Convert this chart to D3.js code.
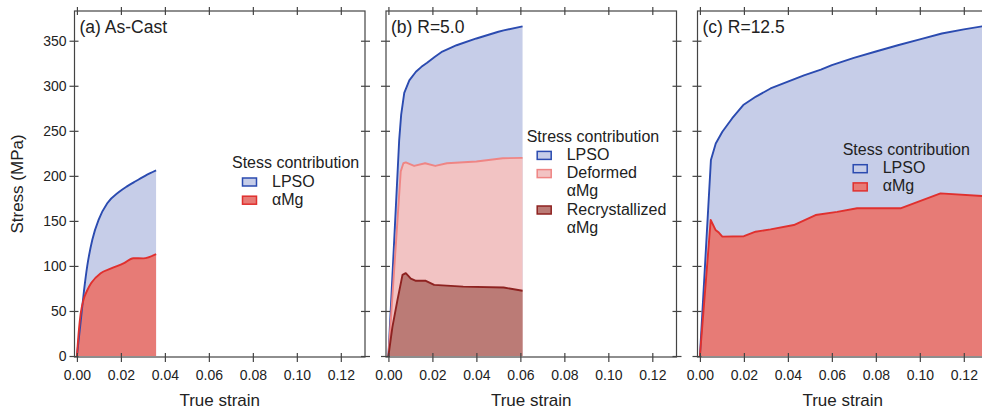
<!DOCTYPE html>
<html>
<head>
<meta charset="utf-8">
<script src="https://cdn.jsdelivr.net/npm/d3@7"></script>
<style>
  html, body { margin: 0; padding: 0; background: #fff; }
  svg { display: block; font-family: "Liberation Sans", Arial, Helvetica, sans-serif; }
</style>
</head>
<body>
<svg id="chart" width="982" height="412"></svg>
<script>
// ---------------- DATA ----------------
const xTicks = [0.00, 0.02, 0.04, 0.06, 0.08, 0.10, 0.12];
const yTicks = [0, 50, 100, 150, 200, 250, 300, 350];
const panelTitles = ["(a) As-Cast", "(b) R=5.0", "(c) R=12.5"];

// Panel (a) As-Cast : [true strain, stress MPa]
const a_LPSO = [[0,0],[0.0017,38],[0.0032,72],[0.0047,100],[0.007,129],[0.01,152],[0.0138,169.5],[0.0191,182],[0.0226,188],[0.026,193],[0.031,200],[0.036,206]];
const a_aMg  = [[0,0],[0.0009,29],[0.0017,47],[0.0032,64],[0.0047,73],[0.0065,81],[0.0108,92],[0.0153,97],[0.0214,103],[0.0256,108.5],[0.0302,108.4],[0.036,113]];

// Panel (b) R=5.0
const b_LPSO  = [[0,0],[0.0049,240],[0.0058,268],[0.0072,292],[0.0095,306],[0.0125,315.6],[0.015,321],[0.0176,325.5],[0.021,332],[0.0245,338],[0.031,345],[0.04,352.5],[0.05,360],[0.0524,361.5],[0.061,366]];
const b_defMg = [[0,0],[0.0056,205],[0.0068,214],[0.0079,215],[0.0117,211],[0.0167,214],[0.0213,211],[0.0266,214],[0.04,216],[0.052,219.5],[0.061,220]];
const b_recMg = [[0,0],[0.0018,32],[0.0041,62],[0.0064,90],[0.0079,92],[0.0102,86],[0.0125,83.5],[0.017,83.5],[0.0208,79],[0.034,77],[0.0524,76],[0.061,72.5]];

// Panel (c) R=12.5
const c_LPSO = [[0,0],[0.005,217.5],[0.0072,236],[0.0102,249],[0.0147,264],[0.0197,278.6],[0.0255,288],[0.0321,297],[0.04,304.5],[0.0473,311.5],[0.055,318],[0.06,323],[0.07,331],[0.08,338],[0.09,345],[0.1,351.5],[0.11,358],[0.12,362.6],[0.1283,366],[0.132,367.5]];
const c_aMg  = [[0,0],[0.0049,151],[0.0071,140],[0.0086,137],[0.0102,132.5],[0.02,133],[0.0253,138],[0.0321,140.6],[0.0427,145.4],[0.0526,156.5],[0.0624,160],[0.0715,164],[0.0912,164],[0.1094,180.5],[0.1283,177.6],[0.132,177]];

const legendTitles = ["Stess contribution", "Stress contribution", "Stess contribution"];
const legendLabels = [
  [["LPSO"], ["αMg"]],
  [["LPSO"], ["Deformed", "αMg"], ["Recrystallized", "αMg"]],
  [["LPSO"], ["αMg"]]
];

// ---------------- STYLE ----------------
const STY = {
  LPSO:  { fill: "#c6cde8", stroke: "#2b4bb0" },
  aMg:   { fill: "#e77b76", stroke: "#e0302e" },
  defMg: { fill: "#f2c3c3", stroke: "#ef8584" },
  recMg: { fill: "#bb7b76", stroke: "#8e2220" }
};
const legendKeys = [["LPSO","aMg"], ["LPSO","defMg","recMg"], ["LPSO","aMg"]];
const panelSeries = [
  [["LPSO", a_LPSO, true], ["aMg", a_aMg, true]],
  [["LPSO", b_LPSO, false], ["defMg", b_defMg, false], ["recMg", b_recMg, false]],
  [["LPSO", c_LPSO, false], ["aMg", c_aMg, false]]
];
const legendPos = [[232, 168.3], [526.7, 141.7], [842.7, 155]];

// ---------------- LAYOUT ----------------
const svg = d3.select("#chart");
const plotTop = 11, plotBottom = 357, pw = 290.5;
const lefts = [74.5, 386, 697.5];
const y = d3.scaleLinear().domain([-1.1, 383]).range([plotBottom, plotTop]);
const frameColor = "#444";
const textColor = "#222";

const defs = svg.append("defs");

lefts.forEach((L, i) => {
  const x = d3.scaleLinear().domain([-0.0011, 0.131]).range([L, L + pw]);
  const g = svg.append("g");

  defs.append("clipPath").attr("id", "clip" + i)
    .append("rect").attr("x", L).attr("y", plotTop).attr("width", pw).attr("height", plotBottom - plotTop);

  const plot = g.append("g").attr("clip-path", `url(#clip${i})`);

  panelSeries[i].forEach(([key, data, smooth]) => {
    const cv = smooth ? d3.curveMonotoneX : d3.curveLinear;
    const area = d3.area().curve(cv).x(d => x(d[0])).y0(y(0)).y1(d => y(d[1]));
    plot.append("path").attr("d", area(data)).attr("fill", STY[key].fill).attr("stroke", "none");
  });
  panelSeries[i].forEach(([key, data, smooth]) => {
    const cv = smooth ? d3.curveMonotoneX : d3.curveLinear;
    const line = d3.line().curve(cv).x(d => x(d[0])).y(d => y(d[1]));
    plot.append("path").attr("d", line(data)).attr("fill", "none")
      .attr("stroke", STY[key].stroke).attr("stroke-width", 1.9).attr("stroke-linejoin", "round");
  });

  // frame
  g.append("rect").attr("x", L).attr("y", plotTop).attr("width", pw).attr("height", plotBottom - plotTop)
    .attr("fill", "none").attr("stroke", frameColor).attr("stroke-width", 1.2);

  const styleAxis = sel => {
    sel.select(".domain").remove();
    sel.selectAll(".tick line").attr("stroke", frameColor).attr("stroke-width", 1.2);
    sel.selectAll(".tick text").attr("fill", textColor).style("font-size", "14px")
      .style("font-family", '"Liberation Sans", Arial, sans-serif');
  };

  // bottom axis (outer with labels + inner)
  g.append("g").attr("transform", `translate(0,${plotBottom})`)
    .call(d3.axisBottom(x).tickValues(xTicks).tickFormat(d3.format(".2f")).tickSizeInner(5).tickSizeOuter(0).tickPadding(8))
    .call(styleAxis);
  g.append("g").attr("transform", `translate(0,${plotBottom})`)
    .call(d3.axisBottom(x).tickValues(xTicks).tickFormat("").tickSizeInner(-4).tickSizeOuter(0))
    .call(styleAxis);
  // top axis
  g.append("g").attr("transform", `translate(0,${plotTop})`)
    .call(d3.axisTop(x).tickValues(xTicks).tickFormat("").tickSizeInner(4).tickSizeOuter(0))
    .call(styleAxis);
  g.append("g").attr("transform", `translate(0,${plotTop})`)
    .call(d3.axisTop(x).tickValues(xTicks).tickFormat("").tickSizeInner(-4).tickSizeOuter(0))
    .call(styleAxis);
  // left axis
  g.append("g").attr("transform", `translate(${L},0)`)
    .call(d3.axisLeft(y).tickValues(yTicks).tickFormat(i === 0 ? d3.format("d") : "").tickSizeInner(5).tickSizeOuter(0).tickPadding(3))
    .call(styleAxis);
  g.append("g").attr("transform", `translate(${L},0)`)
    .call(d3.axisLeft(y).tickValues(yTicks).tickFormat("").tickSizeInner(-4).tickSizeOuter(0))
    .call(styleAxis);
  // right axis
  g.append("g").attr("transform", `translate(${L + pw},0)`)
    .call(d3.axisRight(y).tickValues(yTicks).tickFormat("").tickSizeInner(5).tickSizeOuter(0))
    .call(styleAxis);
  g.append("g").attr("transform", `translate(${L + pw},0)`)
    .call(d3.axisRight(y).tickValues(yTicks).tickFormat("").tickSizeInner(-4).tickSizeOuter(0))
    .call(styleAxis);

  // panel title
  g.append("text").attr("x", L + 5).attr("y", 33.3).attr("fill", textColor)
    .style("font-size", "17.5px").text(panelTitles[i]);

  // x label
  g.append("text").attr("x", L + pw / 2).attr("y", 406).attr("text-anchor", "middle")
    .attr("fill", textColor).style("font-size", "17px").text("True strain");

  // legend
  const [tx, ty] = legendPos[i];
  const lg = g.append("g");
  lg.append("text").attr("x", tx).attr("y", ty).attr("fill", textColor)
    .style("font-size", "16px").text(legendTitles[i]);
  let row = 1;
  legendKeys[i].forEach((key, k) => {
    const base = ty + 18.2 * row;
    lg.append("rect").attr("x", tx + 10.5).attr("y", base - 8.5).attr("width", 14).attr("height", 8)
      .attr("fill", STY[key].fill).attr("stroke", STY[key].stroke).attr("stroke-width", 1.5);
    legendLabels[i][k].forEach((ln, j) => {
      lg.append("text").attr("x", tx + 40).attr("y", base + 18.2 * j).attr("fill", textColor)
        .style("font-size", "16px").text(ln);
    });
    row += legendLabels[i][k].length;
  });
});

// y label
svg.append("text").attr("transform", "translate(22.5,184) rotate(-90)")
  .attr("text-anchor", "middle").attr("fill", textColor).style("font-size", "17px").text("Stress (MPa)");
</script>
</body>
</html>
